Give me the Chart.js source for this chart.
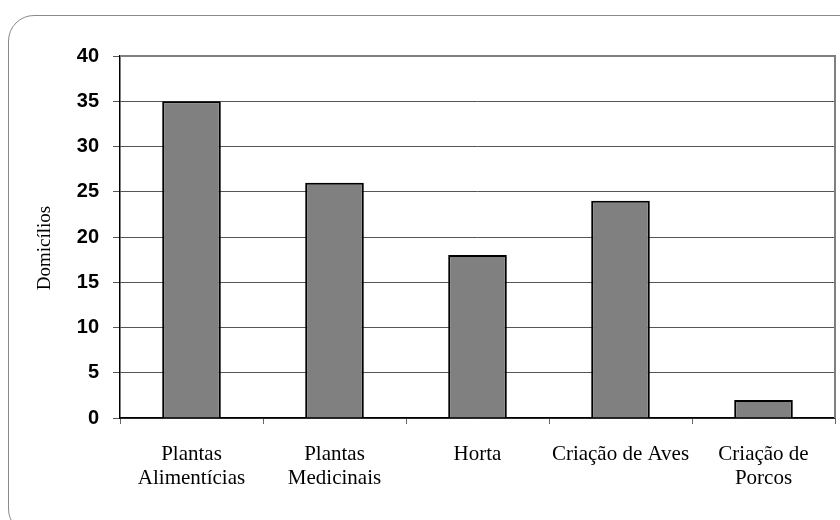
<!DOCTYPE html>
<html>
<head>
<meta charset="utf-8">
<script src="https://cdn.jsdelivr.net/npm/chart.js@4"></script>
<style>
  html, body { margin: 0; padding: 0; background: #fff; overflow: hidden; }
  #wrap { position: relative; width: 840px; height: 520px; }
  #frame {
    position: absolute; left: 8px; top: 15px; width: 880px; height: 520px;
    border: 1.5px solid #8a8a8a; border-radius: 26px; box-sizing: border-box;
  }
  canvas { position: absolute; left: 0; top: 0; }
</style>
</head>
<body>
<div id="wrap">
  <div id="frame"></div>
  <canvas id="grafico" width="840" height="520"></canvas>
</div>
<script>
// dados do gráfico
const categorias = [
    ["Plantas", "Alimentícias"],
    ["Plantas", "Medicinais"],
    "Horta",
    "Criação de Aves",
    ["Criação de", "Porcos"]
];
const domicilios = [35, 26, 18, 24, 2];
const ticksY = [0, 5, 10, 15, 20, 25, 30, 35, 40];
const tituloY = 'Domicílios';

// borda cinza em cima e à direita + título do eixo y
const extras = {
    id: 'extras',
    afterDraw(chart) {
        const a = chart.chartArea;
        const ctx = chart.ctx;
        ctx.save();
        ctx.strokeStyle = '#808080';
        ctx.lineWidth = 2;
        ctx.beginPath();
        ctx.moveTo(a.left, a.top);
        ctx.lineTo(a.right, a.top);
        ctx.lineTo(a.right, a.bottom);
        ctx.stroke();

        ctx.translate(45, 248);
        ctx.rotate(-Math.PI / 2);
        ctx.fillStyle = '#000';
        ctx.font = '19px "Liberation Serif", "Times New Roman", serif';
        ctx.textAlign = 'center';
        ctx.textBaseline = 'middle';
        ctx.fillText(tituloY, 0, 0);
        ctx.restore();
    }
};

new Chart(document.getElementById('grafico').getContext('2d'), {
    type: 'bar',
    data: {
        labels: categorias,
        datasets: [{
            data: domicilios,
            backgroundColor: '#808080',
            borderColor: '#000',
            borderWidth: 2,
            barPercentage: 0.41,
            categoryPercentage: 1
        }]
    },
    options: {
        responsive: false,
        animation: false,
        layout: { padding: { top: 56, right: 5, left: 0, bottom: 0 } },
        plugins: {
            legend: { display: false },
            tooltip: { enabled: false }
        },
        scales: {
            x: {
                offset: true,
                afterFit(s) { s.height = 102; },
                grid: {
                    offset: true,
                    drawOnChartArea: false,
                    drawTicks: true,
                    tickLength: 6,
                    color: '#666'
                },
                border: { color: '#000', width: 1.5 },
                ticks: {
                    color: '#000',
                    padding: 18,
                    maxRotation: 0,
                    autoSkip: false,
                    font: { family: '"Liberation Serif", "Times New Roman", serif', size: 21, lineHeight: 1.15 }
                }
            },
            y: {
                min: 0,
                max: 40,
                afterFit(s) { s.width = 120; },
                afterBuildTicks(s) { s.ticks = ticksY.map(v => ({ value: v })); },
                grid: {
                    color: '#555',
                    lineWidth: 1,
                    tickLength: 7
                },
                border: { color: '#000', width: 1.5 },
                ticks: {
                    color: '#000',
                    padding: 14,
                    font: { family: '"Liberation Sans", Arial, sans-serif', size: 20, weight: 'bold' }
                }
            }
        }
    },
    plugins: [extras]
});
</script>
</body>
</html>
